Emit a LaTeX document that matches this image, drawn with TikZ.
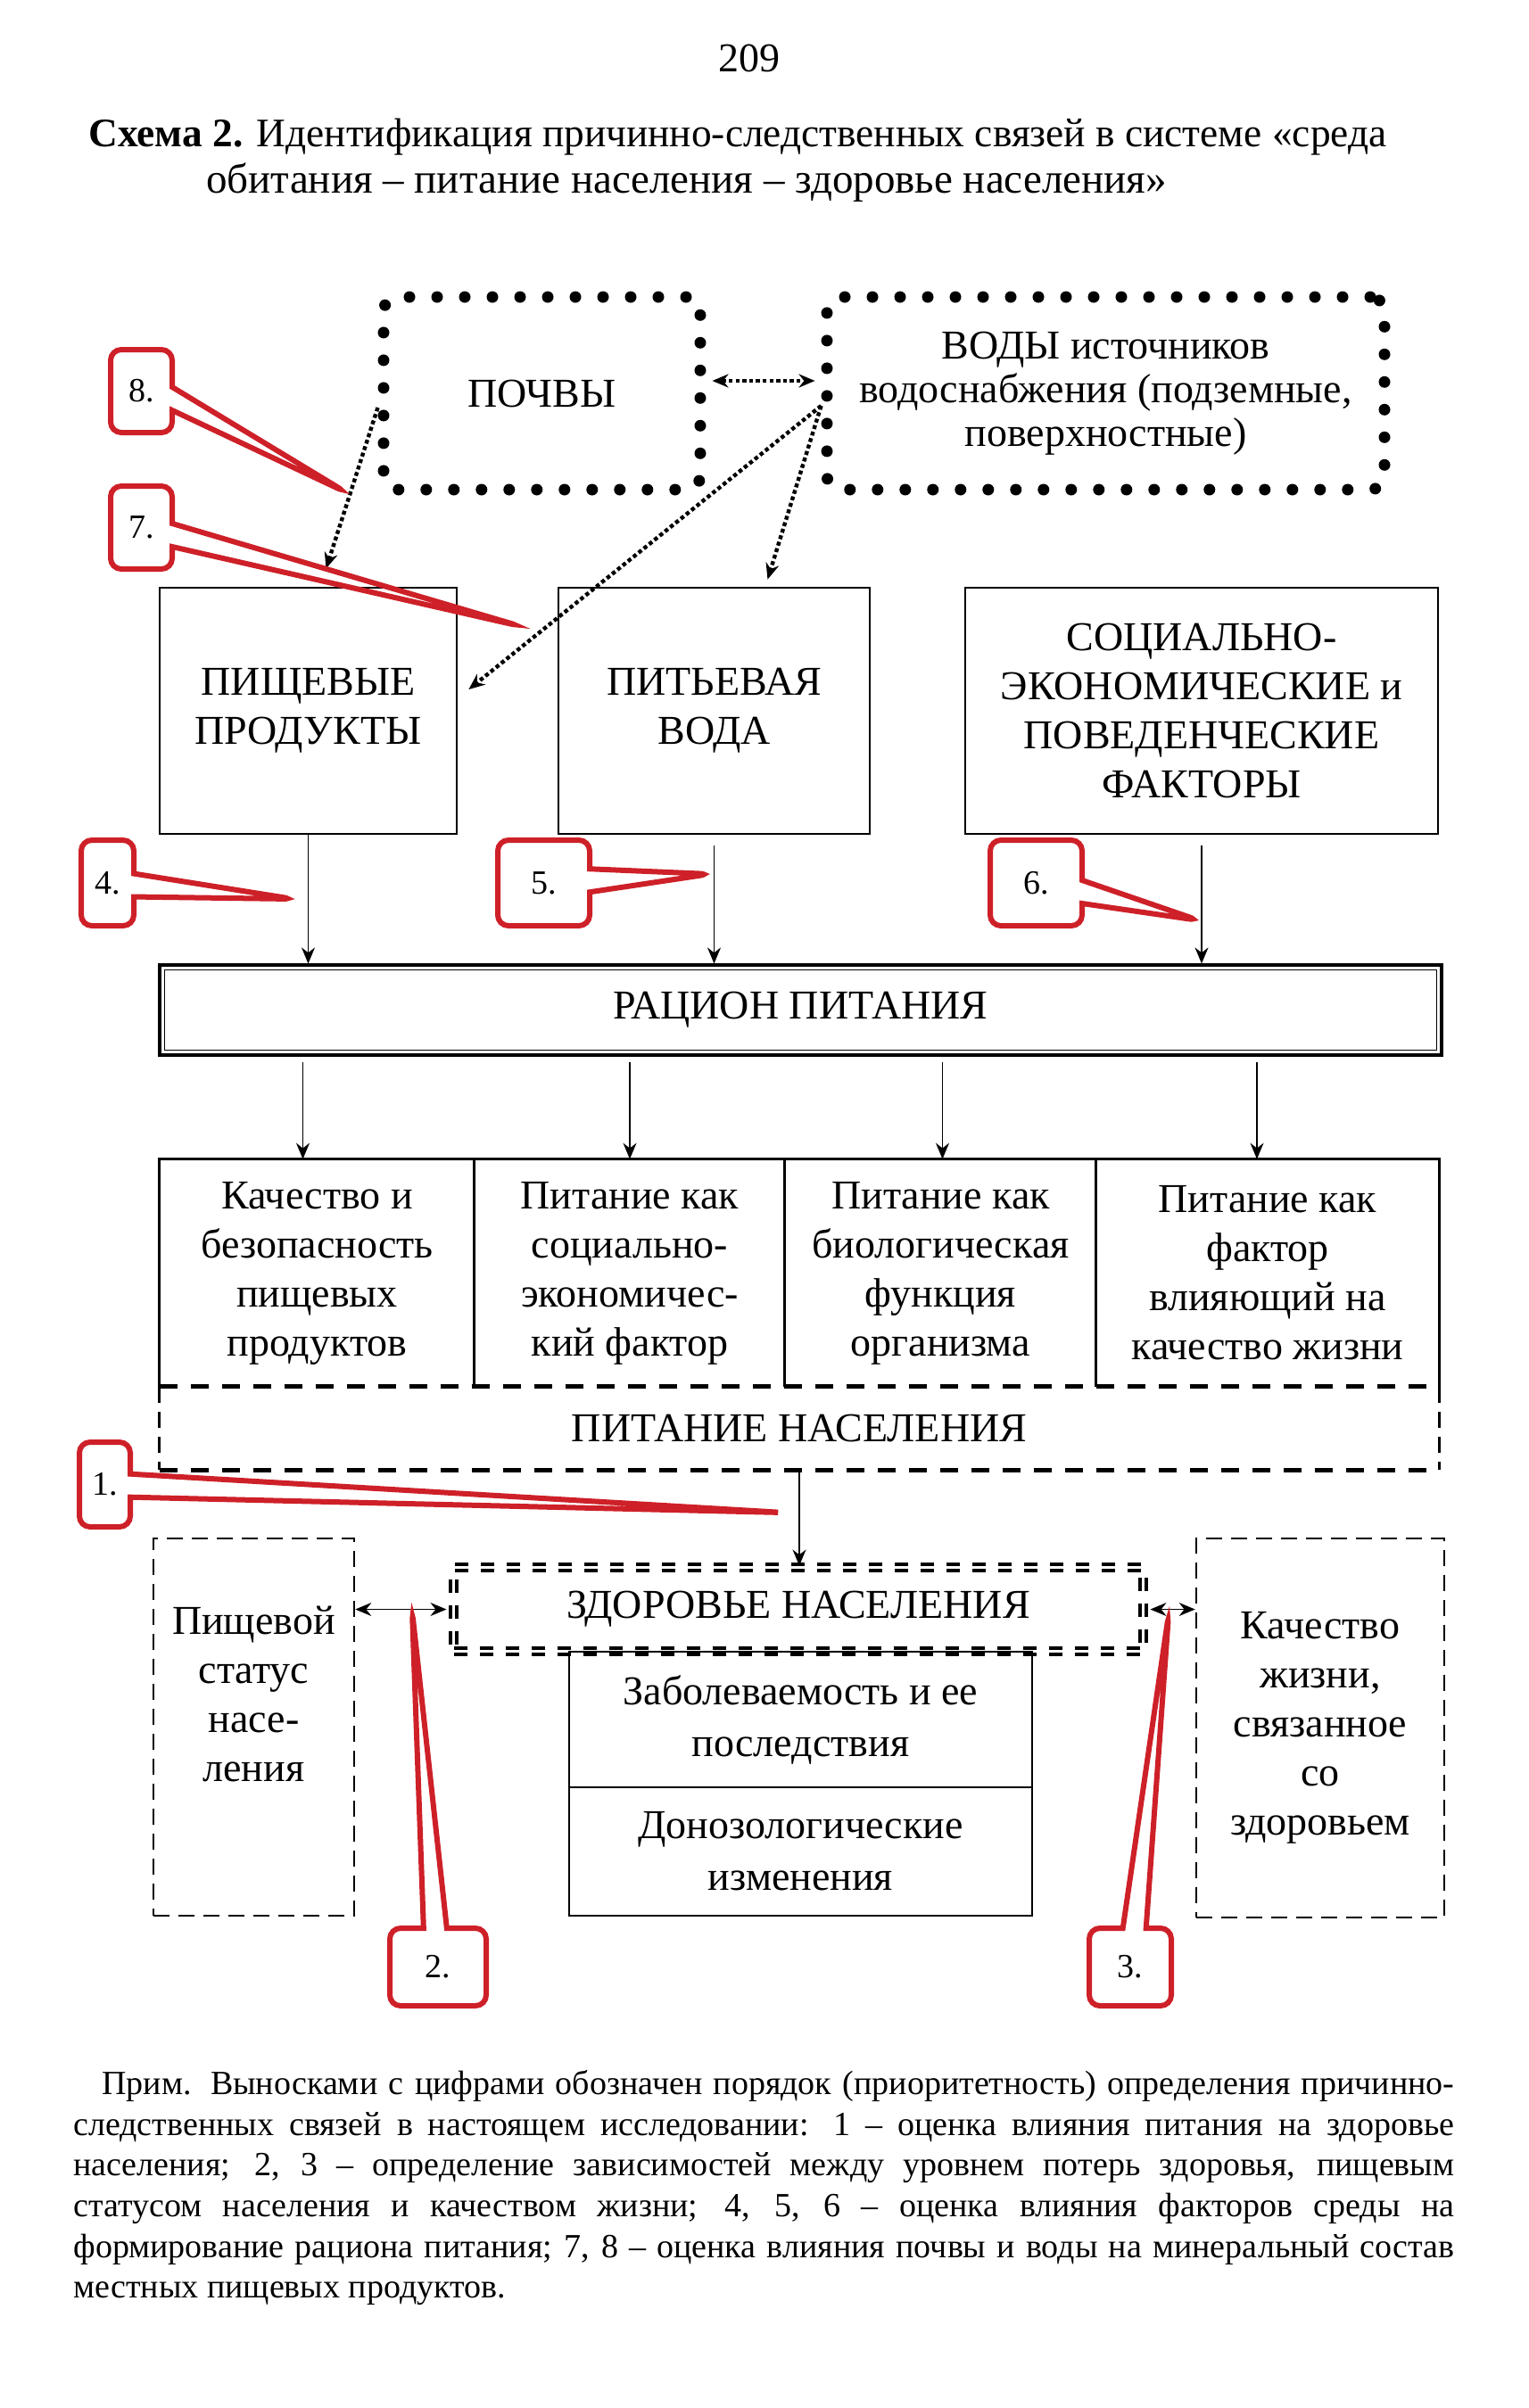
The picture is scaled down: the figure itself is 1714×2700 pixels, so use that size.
\documentclass[tikz,border=0pt]{standalone}
\usepackage{fontspec}
\setmainfont{Liberation Serif}
\usetikzlibrary{arrows.meta,shapes.callouts}

\definecolor{markred}{RGB}{206,32,40}
\newcommand\boxfont{\fontsize{23}{27.5}\selectfont}
\newcommand\numfont{\fontsize{19}{22}\selectfont}

\tikzset{
  >={Stealth[length=9pt,width=7.5pt]},
  box/.style={draw, line width=1.4pt, align=center, inner sep=0pt, font=\boxfont},
  cell/.style={align=center, inner sep=0pt, font=\boxfont, minimum height=127.5pt},
  dotbox/.style={draw, line width=6.5pt, line cap=round, dash pattern=on 0pt off 15.5pt,
    rounded corners=8pt, align=center, inner sep=0pt, font=\boxfont},
  dashbox/.style={draw, line width=1.3pt, dash pattern=on 9pt off 5pt, align=center,
    inner sep=0pt, font=\boxfont},
  twindash/.style={draw, double, line width=2pt, double distance=1.5pt,
    dash pattern=on 7.5pt off 7pt, align=center, inner sep=0pt, font=\boxfont},
  heavydash/.style={line width=2.5pt, dash pattern=on 10pt off 7.5pt},
  lightdash/.style={line width=1.3pt, dash pattern=on 9pt off 5pt},
  arr/.style={line width=0.8pt, ->},
  dotline/.style={line width=2.2pt, dash pattern=on 2.2pt off 1.6pt},
  numcall/.style={rectangle callout, draw=markred, line width=3pt, rounded corners=6pt,
    inner sep=0pt, callout pointer width=13pt, font=\numfont}
}

\begin{document}
\begin{tikzpicture}[x=0.5pt, y=-0.5pt]
    \useasboundingbox (0,0) rectangle (1714,2700);

    % page number and caption
    \node[font=\fontsize{23}{27}\selectfont] (page) at (840,65) {209};
    \node[anchor=west, inner sep=0pt, font=\fontsize{22.7}{27}\selectfont] (cap1) at (99,154)
        {\textbf{Схема 2.} Идентификация причинно-следственных связей в системе «среда};
    \node[anchor=west, inner sep=0pt, font=\fontsize{23.5}{27}\selectfont] (cap2) at (231,205)
        {обитания – питание населения – здоровье населения»};

    % the environment
    \node[dotbox, minimum width=177.5pt, minimum height=108pt] (soil) at (607.5,441) {ПОЧВЫ};
    \node[dotbox, minimum width=312.5pt, minimum height=108pt, font=\fontsize{23}{24.5}\selectfont]
        (water) at (1239.5,441) {ВОДЫ источников\\водоснабжения (подземные,\\поверхностные)};

    % the factors
    \node[box, minimum width=166.5pt, minimum height=138pt] (food) at (345.5,797) {ПИЩЕВЫЕ\\ПРОДУКТЫ};
    \node[box, minimum width=174.5pt, minimum height=138pt] (drink) at (800.5,797) {ПИТЬЕВАЯ\\ВОДА};
    \node[box, minimum width=265pt, minimum height=138pt] (social) at (1347,797)
        {СОЦИАЛЬНО-\\ЭКОНОМИЧЕСКИЕ и\\ПОВЕДЕНЧЕСКИЕ\\ФАКТОРЫ};

    % the diet
    \node[draw, line width=1.6pt, inner sep=0pt, minimum width=718.5pt, minimum height=50.5pt,
        font=\boxfont] (ration) at (897.5,1132.5) {РАЦИОН ПИТАНИЯ};
    \draw[line width=0.8pt] ([shift={(3.5pt,-3.5pt)}]ration.north west)
        rectangle ([shift={(-3.5pt,3.5pt)}]ration.south east);

    % the four sides of nutrition
    \node[cell, minimum width=176.5pt] (col1) at (355.5,1427.5) {Качество и\\безопасность\\пищевых\\продуктов};
    \node[cell, minimum width=174pt] (col2) at (706,1427.5) {Питание как\\социально-\\экономичес-\\кий фактор};
    \node[cell, minimum width=174.5pt] (col3) at (1054.5,1427.5) {Питание как\\биологическая\\функция\\организма};
    \node[cell, minimum width=192pt] (col4) at (1421,1427.5) {Питание как\\фактор\\влияющий на\\качество жизни};
    \draw[line width=1.4pt] (col1.south west) -- (col1.north west) -- (col4.north east) -- (col4.south east);
    \foreach \c in {col2,col3,col4}
        \draw[line width=1.2pt] (\c.north west) -- (\c.south west);

    \node[inner sep=0pt, minimum width=717pt, minimum height=46.5pt, font=\boxfont]
        (nutr) at (896,1601.5) {ПИТАНИЕ НАСЕЛЕНИЯ};
    \draw[heavydash] (nutr.north west) -- (nutr.north east);
    \draw[heavydash] (nutr.south west) -- (nutr.south east);
    \draw[lightdash] (nutr.north west) -- (nutr.south west);
    \draw[lightdash] (nutr.north east) -- (nutr.south east);

    % health
    \node[twindash, minimum width=386.5pt, minimum height=47pt] (health) at (895,1804.5) {ЗДОРОВЬЕ НАСЕЛЕНИЯ};
    \node[box, minimum width=259.5pt, minimum height=76pt, font=\fontsize{23}{29}\selectfont]
        (morb) at (897.5,1928) {Заболеваемость и ее\\последствия};
    \node[box, minimum width=259.5pt, minimum height=72pt, font=\fontsize{23}{29}\selectfont]
        (prenos) at (897.5,2076) {Донозологические\\изменения};
    \node[dashbox, minimum width=112.5pt, minimum height=211.5pt, text depth=37pt]
        (status) at (284.5,1936.5) {Пищевой\\статус\\насе-\\ления};
    \node[dashbox, minimum width=139pt, minimum height=212.5pt]
        (quality) at (1480,1937.5) {Качество\\жизни,\\связанное\\со\\здоровьем};

    % dotted links of soil and water
    \draw[dotline, <->, shorten <=3.5pt, shorten >=3.5pt] ([yshift=7pt]soil.east) -- ([yshift=7pt]water.west);
    \draw[dotline, ->] ([yshift=-8pt]soil.west) -- ([xshift=10pt,yshift=10pt]food.north);
    \draw[dotline, ->] ([yshift=-7pt]water.west) -- ([xshift=6pt,yshift=12pt]food.east);
    \draw[dotline, ->] ([yshift=-7pt]water.west) -- ([xshift=30pt,yshift=4pt]drink.north);

    % the arrows
    \draw[arr] (food.south) -- (food.south |- ration.north);
    \draw[arr, shorten <=6pt] (drink.south) -- (drink.south |- ration.north);
    \draw[arr, shorten <=6pt] (social.south) -- (social.south |- ration.north);
    \foreach \c/\s in {col1/-8pt,col2/0pt,col3/1pt,col4/-6pt}
        \draw[arr, shorten <=3pt] ([xshift=\s]\c.north |- ration.south) -- ([xshift=\s]\c.north);
    \draw[arr] (nutr.south) -- (nutr.south |- health.north);
    \draw[line width=0.8pt, <->, shorten >=3pt] (status.east |- health.west) -- (health.west);
    \draw[line width=0.8pt, <->, shorten <=3pt] (health.east) -- (health.east -| quality.west);

    % the red numbered callouts
    \coordinate (tip8) at (388,552);
    \coordinate (tip7) at (583,702);
    \coordinate (tip4) at (329,1008);
    \coordinate (tip5) at (796,980);
    \coordinate (tip6) at (1344,1032);
    \coordinate (tip1) at (879,1696);
    \coordinate (tip2) at (462,1806);
    \coordinate (tip3) at (1310,1810);
    \node[numcall, minimum width=34.5pt, minimum height=46.5pt, callout absolute pointer={(tip8)}] (c8) at (158.5,438.5) {8.};
    \node[numcall, minimum width=34.5pt, minimum height=46.5pt, callout absolute pointer={(tip7)}] (c7) at (158.5,591.5) {7.};
    \node[numcall, minimum width=29.5pt, minimum height=48pt, callout absolute pointer={(tip4)}] (c4) at (120.5,990) {4.};
    \node[numcall, minimum width=51.5pt, minimum height=48pt, callout absolute pointer={(tip5)}] (c5) at (609.5,990) {5.};
    \node[numcall, minimum width=51.5pt, minimum height=48pt, callout absolute pointer={(tip6)}] (c6) at (1161.5,990) {6.};
    \node[numcall, minimum width=28.5pt, minimum height=47.5pt, callout absolute pointer={(tip1)}] (c1) at (117.5,1664.5) {1.};
    \node[numcall, minimum width=54pt, minimum height=43.5pt, callout absolute pointer={(tip2)}] (c2) at (491,2205.5) {2.};
    \node[numcall, minimum width=46pt, minimum height=43.5pt, callout absolute pointer={(tip3)}] (c3) at (1267,2205.5) {3.};

    % the note
    \node[anchor=north west, inner sep=0pt, text width=774pt, align=justify,
        font=\fontsize{19}{22.8}\selectfont] (note) at (82,2321)
        {\tolerance=9999\hyphenpenalty=10000\hspace*{16pt}Прим. Выносками с цифрами обозначен порядок (приоритетность) определения причинно-\linebreak
        следственных связей в настоящем исследовании: 1 – оценка влияния питания на здоровье\linebreak
        населения; 2, 3 – определение зависимостей между уровнем потерь здоровья, пищевым\linebreak
        статусом населения и качеством жизни; 4, 5, 6 – оценка влияния факторов среды на\linebreak
        формирование рациона питания; 7, 8 – оценка влияния почвы и воды на минеральный состав\linebreak
        местных пищевых продуктов.};
\end{tikzpicture}
\end{document}
